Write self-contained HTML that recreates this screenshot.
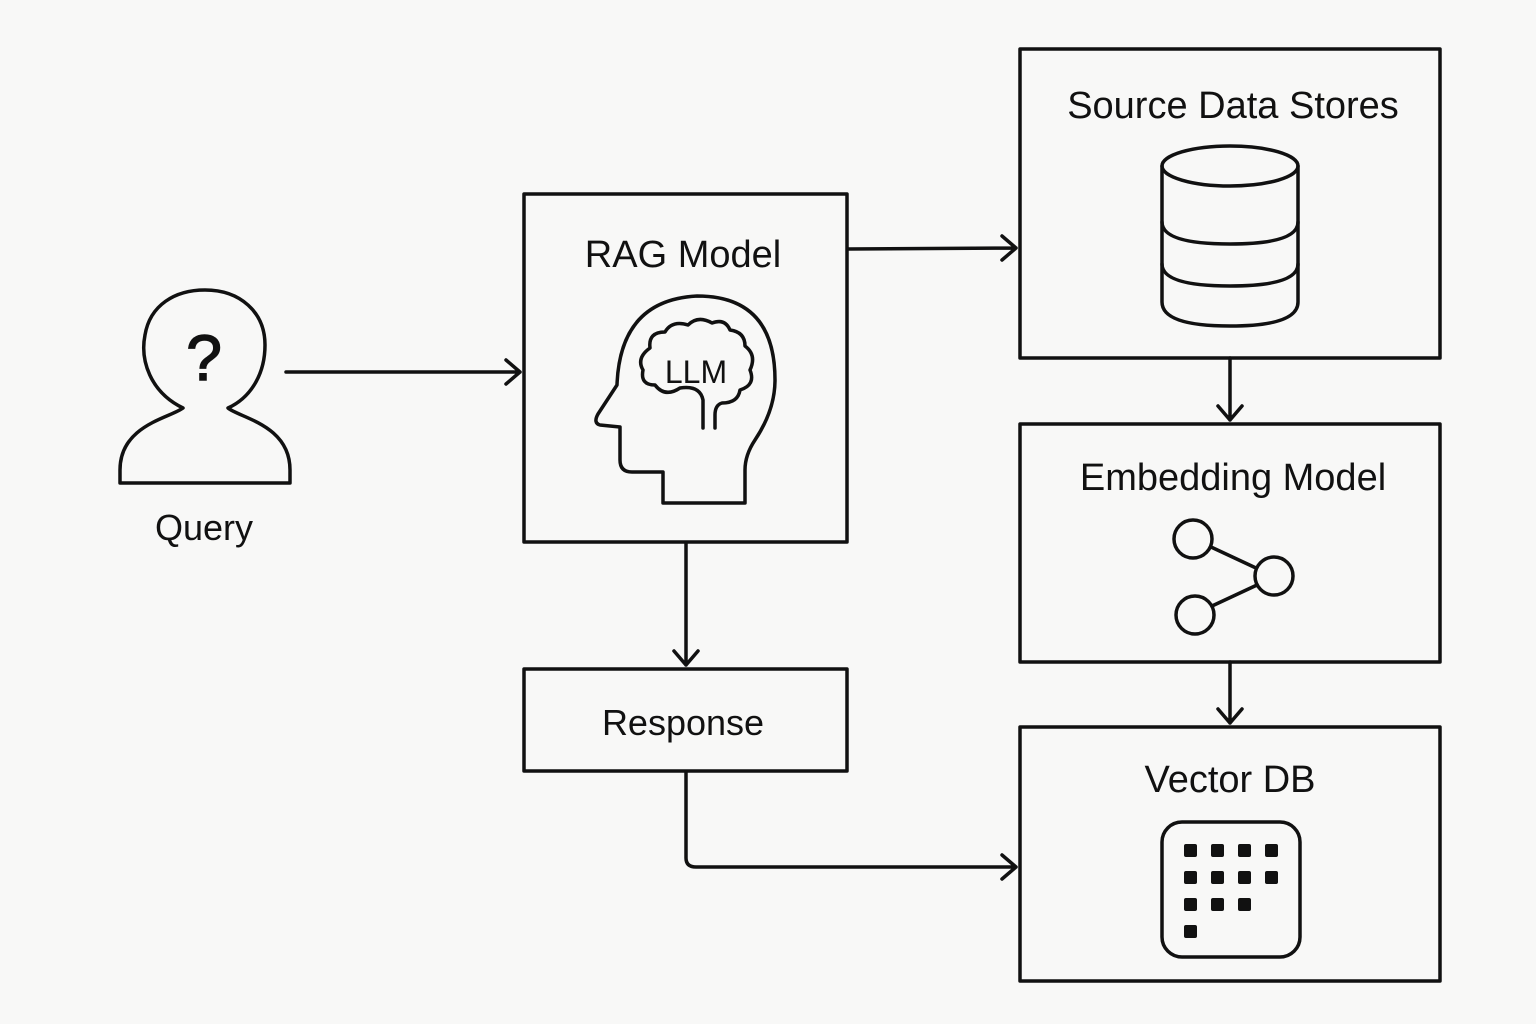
<!DOCTYPE html>
<html><head><meta charset="utf-8"><style>
html,body{margin:0;padding:0;background:#f8f8f7}
svg{display:block}
text{font-family:"Liberation Sans",sans-serif;fill:#111}
</style></head><body>
<svg width="1536" height="1024" viewBox="0 0 1536 1024" xmlns="http://www.w3.org/2000/svg">
<rect width="1536" height="1024" fill="#f8f8f7"/>
<g fill="none" stroke="#111" stroke-width="3.5" stroke-linejoin="round" stroke-linecap="round">
<rect x="524" y="194" width="323" height="348"/>
<rect x="524" y="669" width="323" height="102"/>
<rect x="1020" y="49" width="420" height="309"/>
<rect x="1020" y="424" width="420" height="238"/>
<rect x="1020" y="727" width="420" height="254"/>
<path d="M183,408 C150,392 140,360 145,335 C150,305 175,290 205,290 C240,290 265,312 265,345 C265,375 250,398 228,408 C240,418 290,425 290,470 L290,483 L120,483 L120,470 C120,425 170,418 183,408 Z"/>
<path d="M286,372 L520,372 M506,360 L520,372 L506,384"/>
<path d="M848,249 L1016,248 M1002,236 L1016,248 L1002,260"/>
<path d="M686,543 L686,665 M674,651 L686,665 L698,651"/>
<path d="M1230,358 L1230,420 M1218,406 L1230,420 L1242,406"/>
<path d="M1230,662 L1230,723 M1218,709 L1230,723 L1242,709"/>
<path d="M686,772 L686,858 Q686,867 696,867 L1016,867 M1002,855 L1016,867 L1002,879"/>
<ellipse cx="1230" cy="166" rx="68" ry="20"/>
<path d="M1162,166 L1162,302 Q1162,326 1230,326 Q1298,326 1298,302 L1298,166"/>
<path d="M1162,222 Q1162,244 1230,244 Q1298,244 1298,222"/>
<path d="M1162,264 Q1162,286 1230,286 Q1298,286 1298,264"/>
<circle cx="1193" cy="539" r="19"/>
<circle cx="1274" cy="576" r="19"/>
<circle cx="1195" cy="615" r="19"/>
<path d="M1211,547 L1256,568 M1212,606 L1257,585"/>
<rect x="1162" y="822" width="138" height="135" rx="20"/>
<path d="M663,503 L663,472 L632,472 Q620,472 620,460 L620,427 L600,425 Q593,423 598,414 L617,385 Q620,300 697,296 Q775,296 775,380 Q775,410 755,440 Q745,455 745,470 L745,503 Z"/>
<path d="M703,428 L703,400 Q700,385 680,388 Q665,398 655,385 Q640,385 643,370 Q636,358 650,348 Q648,332 665,332 Q672,320 688,325 Q698,315 712,323 Q725,318 730,330 Q745,332 745,346 Q757,355 750,370 Q756,385 740,390 Q738,403 722,403 Q715,405 715,415 L715,428"/>
</g>
<g fill="#111">
<rect x="1184" y="844" width="13" height="13" rx="2"/><rect x="1211" y="844" width="13" height="13" rx="2"/><rect x="1238" y="844" width="13" height="13" rx="2"/><rect x="1265" y="844" width="13" height="13" rx="2"/>
<rect x="1184" y="871" width="13" height="13" rx="2"/><rect x="1211" y="871" width="13" height="13" rx="2"/><rect x="1238" y="871" width="13" height="13" rx="2"/><rect x="1265" y="871" width="13" height="13" rx="2"/>
<rect x="1184" y="898" width="13" height="13" rx="2"/><rect x="1211" y="898" width="13" height="13" rx="2"/><rect x="1238" y="898" width="13" height="13" rx="2"/>
<rect x="1184" y="925" width="13" height="13" rx="2"/>
</g>
<text x="204" y="380" font-size="64" text-anchor="middle" fill="none" stroke="#111" stroke-width="1.5">?</text>
<text x="204" y="540" font-size="36" text-anchor="middle">Query</text>
<text x="683" y="267" font-size="38" text-anchor="middle">RAG Model</text>
<text x="696" y="383" font-size="32" text-anchor="middle">LLM</text>
<text x="683" y="735" font-size="36" text-anchor="middle">Response</text>
<text x="1233" y="118" font-size="38" text-anchor="middle">Source Data Stores</text>
<text x="1233" y="490" font-size="38" text-anchor="middle">Embedding Model</text>
<text x="1230" y="792" font-size="38" text-anchor="middle">Vector DB</text>
</svg>
</body></html>
